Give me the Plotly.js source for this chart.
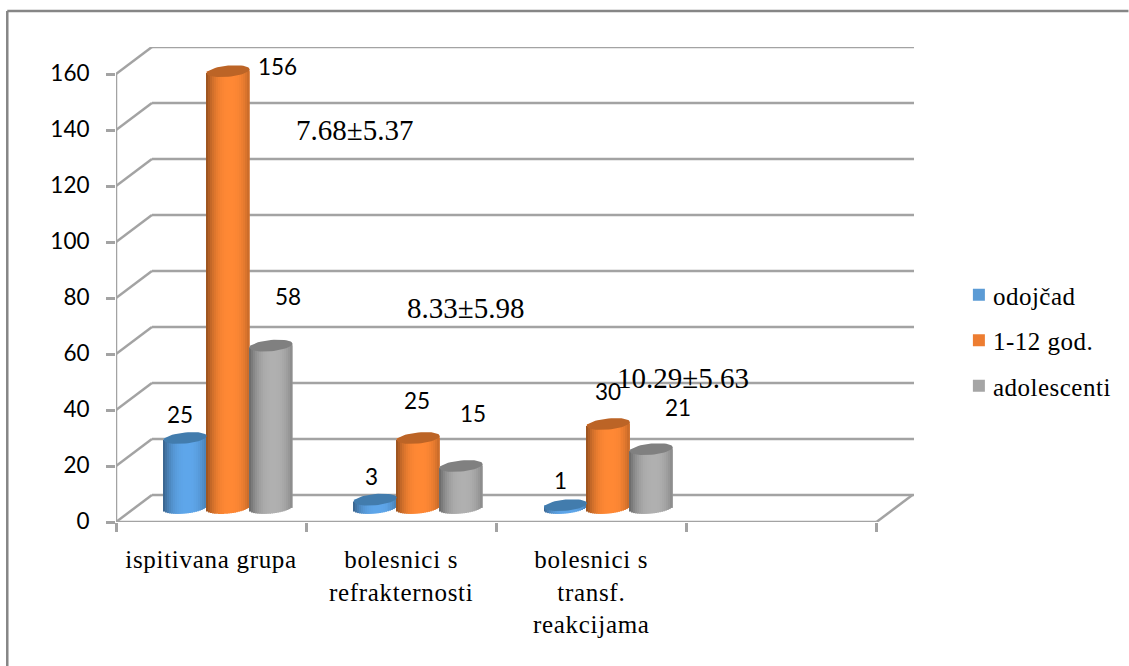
<!DOCTYPE html>
<html>
<head>
<meta charset="utf-8">
<script src="https://cdn.plot.ly/plotly-3.0.1.min.js"></script>
<style>
html,body{margin:0;padding:0;background:#fff}
#chart{width:1129px;height:666px}
#chart .xtick text{letter-spacing:.7px}
#chart .legendtext{letter-spacing:.5px}
</style>
</head>
<body>
<div id="chart"></div>
<script>
// Values per patient group
const categories = ["ispitivana grupa", "bolesnici s<br>refrakternosti", "bolesnici s<br>transf.<br>reakcijama"];
const seriesNames = ["odojčad", "1-12 god.", "adolescenti"];
const infants = [25, 3, 1];
const children = [156, 25, 30];
const adolescents = [58, 15, 21];
const yTicks = [0, 20, 40, 60, 80, 100, 120, 140, 160];
const meanLabels = ["7.68±5.37", "8.33±5.98", "10.29±5.63"];

// Label offsets from each cylinder's top centre, in pixels [series][category]
const labelShift = [
  [[-5, 24], [-4, 23], [-5, 25]],
  [[49, 5], [-1, 38], [0, 33]],
  [[17, 49], [12, 53], [27, 42]]
];

const palette = [
  {bright: [94, 166, 234], legend: "#5B9BD5", cap: "#427CAD"},
  {bright: [255, 136, 52], legend: "#ED7D31", cap: "#BC6426"},
  {bright: [176, 176, 176], legend: "#A5A5A5", cap: "#808080"}
];
const seriesValues = [infants, children, adolescents];

// Plot frame in pixels and the resulting scales
const W = 1129, H = 666;
const plot = {l: 116, r: 916, t: 47, b: 522};
const pxPerCat = 190.6, pxPerUnit = 2.8;
const xMax = (plot.r - plot.l) / pxPerCat;
const yMax = (plot.b - plot.t) / pxPerUnit;
const nCat = 4;

// Oblique projection of the chart box
const depthX = 36 / pxPerCat, depthY = 27 / pxPerUnit;

// Cylinder geometry in axis units
const radius = 21.5 / pxPerCat;
const floorY = 14 / pxPerUnit;
const arc = 5.6 / pxPerUnit;
const tilt = 2 / pxPerUnit;
const centre = (cat, s) => cat + 0.364 + s * 2 * radius;
const STRIPS = 22;

const shade = (rgb, u) => {
  const f = 1 - 0.42 * Math.pow(Math.abs(u - 0.12) / 1.12, 2.6);
  return `rgb(${rgb.map(c => Math.round(c * f)).join(",")})`;
};

// Bodies: one wide bar per category plus narrow strips that carry the round shading
const barTraces = seriesValues.map((vals, s) => {
  const x = [], y = [], base = [], width = [], color = [];
  vals.forEach((v, cat) => {
    x.push(centre(cat, s)); y.push(v); base.push(floorY);
    width.push(2 * radius); color.push(palette[s].legend);
  });
  vals.forEach((v, cat) => {
    for (let j = 0; j < STRIPS; j++) {
      const u = -1 + (2 * j + 1) / STRIPS;
      const low = floorY + tilt * u - arc * Math.sqrt(1 - u * u);
      const high = floorY + tilt * u + v;
      x.push(centre(cat, s) + u * radius);
      base.push(low);
      y.push(high - low);
      width.push(2 * radius / STRIPS);
      color.push(shade(palette[s].bright, u));
    }
  });
  return {
    type: "bar", name: seriesNames[s], x, y, base, width,
    marker: {color, line: {width: 0}},
    legendgroup: "g" + s, hoverinfo: "skip"
  };
});

// Top faces of the cylinders
const capTraces = seriesValues.map((vals, s) => {
  const x = [], y = [];
  vals.forEach((v, cat) => {
    for (let k = 0; k <= 48; k++) {
      const t = k / 48 * 2 * Math.PI;
      x.push(centre(cat, s) + radius * Math.cos(t));
      y.push(floorY + v + tilt * Math.cos(t) + arc * Math.sin(t));
    }
    x.push(null); y.push(null);
  });
  return {
    type: "scatter", mode: "lines", x, y, fill: "toself",
    fillcolor: palette[s].cap, line: {width: 0, color: palette[s].cap},
    showlegend: false, hoverinfo: "skip"
  };
});

// Walls and floor of the box, behind the cylinders
const gridColor = "#A3A3A3";
const seg = (x0, y0, x1, y1) => ({
  type: "line", xref: "x", yref: "y", layer: "below", x0, y0, x1, y1,
  line: {color: gridColor, width: 2.5}
});
const wallShapes = [];
yTicks.forEach(v => {
  wallShapes.push(seg(0, v, depthX, v + depthY));
  wallShapes.push(seg(depthX, v + depthY, xMax, v + depthY));
});
wallShapes.push(seg(nCat, 0, nCat + depthX, depthY));
wallShapes.push(seg(0, 0, nCat, 0));
wallShapes.push(seg(0, 0, 0, yTicks[yTicks.length - 1]));

// Outer frame of the chart: top and left edges only
const px = p => (p - plot.l) / (plot.r - plot.l);
const py = p => (plot.b - p) / (plot.b - plot.t);
const frameStyle = {color: "#868686", width: 2.5};
wallShapes.push({type: "line", xref: "paper", yref: "paper", x0: px(7), x1: px(W + 2), y0: py(11), y1: py(11), line: frameStyle});
wallShapes.push({type: "line", xref: "paper", yref: "paper", x0: px(7), x1: px(7), y0: py(11), y1: py(H + 2), line: frameStyle});

const numberFont = {family: "Lato, Carlito, sans-serif", size: 22.5, color: "#000"};
const serifFont = {family: "'Liberation Serif', 'Times New Roman', serif", size: 25, color: "#000"};

const annotations = [];
seriesValues.forEach((vals, s) => vals.forEach((v, cat) => {
  annotations.push({
    xref: "x", yref: "y", x: centre(cat, s), y: floorY + v,
    text: String(v), showarrow: false, font: numberFont,
    xshift: labelShift[s][cat][0], yshift: labelShift[s][cat][1]
  });
}));

// Group means written over the plot, placed in paper space
const meanPos = [[355, 129.5], [466, 307.5], [684, 377.5]];
meanLabels.forEach((t, i) => annotations.push({
  xref: "paper", yref: "paper", x: px(meanPos[i][0]), y: py(meanPos[i][1]),
  xanchor: "center", yanchor: "middle", text: t, showarrow: false,
  font: {family: serifFont.family, size: 29, color: "#000"}
}));

const layout = {
  width: W, height: H,
  margin: {l: plot.l, r: W - plot.r, t: plot.t, b: H - plot.b, pad: 0},
  paper_bgcolor: "#fff", plot_bgcolor: "rgba(0,0,0,0)",
  barmode: "overlay",
  showlegend: true,
  legend: {
    x: px(961), y: py(272), xanchor: "left", yanchor: "top",
    font: serifFont, traceorder: "grouped", tracegroupgap: 10,
    itemclick: false, itemdoubleclick: false, bgcolor: "rgba(0,0,0,0)"
  },
  xaxis: {
    range: [0, xMax], showgrid: false, zeroline: false, showline: false,
    tickmode: "array",
    tickvals: categories.map((_, i) => i + 0.5),
    ticktext: categories,
    ticks: "", tickangle: 0, ticklabelstandoff: 20,
    tickfont: serifFont,
    minor: {
      tickmode: "array", tickvals: [0, 1, 2, 3, 4],
      ticks: "outside", ticklen: 9, tickwidth: 2.5, tickcolor: gridColor, showgrid: false
    }
  },
  yaxis: {
    range: [0, yMax], showgrid: false, zeroline: false, showline: false,
    tickmode: "array", tickvals: yTicks,
    ticks: "outside", ticklen: 9, tickwidth: 2.5, tickcolor: gridColor,
    ticklabelstandoff: 12, ticklabelshift: -1, tickfont: numberFont
  },
  shapes: wallShapes,
  annotations
};

Plotly.newPlot("chart", [...barTraces, ...capTraces], layout, {displayModeBar: false}).then(() => {
  // Tighten the gap between legend swatches and their text
  document.querySelectorAll("#chart .legendtext").forEach(el => {
    el.setAttribute("x", parseFloat(el.getAttribute("x")) - 6);
  });
});
</script>
</body>
</html>
